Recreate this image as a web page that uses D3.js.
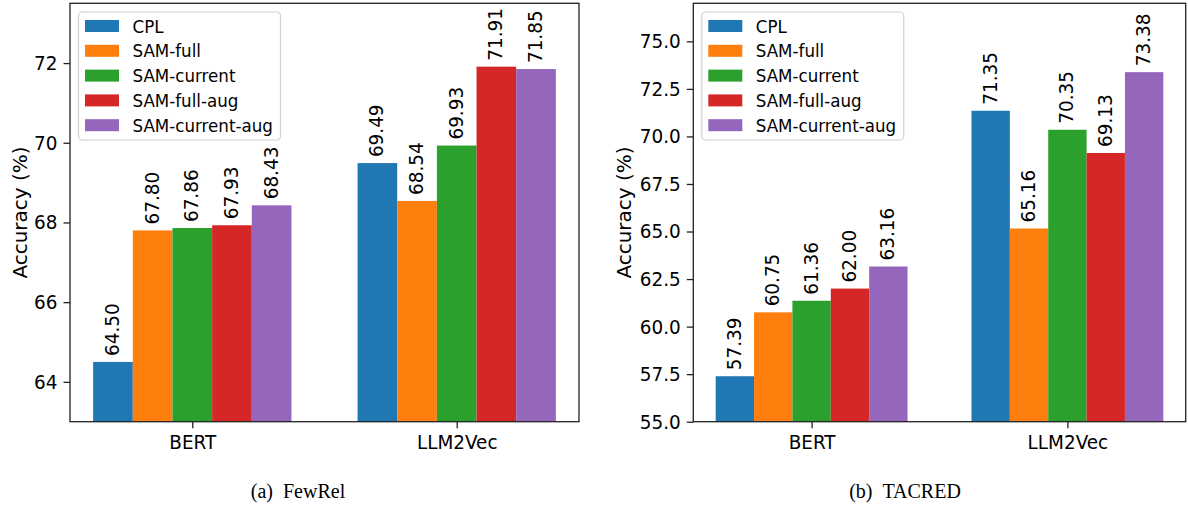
<!DOCTYPE html>
<meta charset="utf-8">
<style>
body { margin: 0; background: #fff; }
svg { display: block; }
text { font-family: "DejaVu Sans", sans-serif; fill: #000; }
.caption { font-family: "Liberation Serif", "Times New Roman", serif; font-size: 20px; }
</style>
<body>
<svg id="chart" width="1188" height="506"></svg>
<script src="https://d3js.org/d3.v7.min.js"></script>
<script>
// Data
var groups = ["BERT", "LLM2Vec"];
var methods = ["CPL", "SAM-full", "SAM-current", "SAM-full-aug", "SAM-current-aug"];
var colors = ["#1f77b4", "#ff7f0e", "#2ca02c", "#d62728", "#9467bd"];

var fewrelBert = [64.50, 67.80, 67.86, 67.93, 68.43];
var fewrelLlm = [69.49, 68.54, 69.93, 71.91, 71.85];
var fewrelTicks = [64, 66, 68, 70, 72];

var tacredBert = [57.39, 60.75, 61.36, 62.00, 63.16];
var tacredLlm = [71.35, 65.16, 70.35, 69.13, 73.38];
var tacredTicks = [55.0, 57.5, 60.0, 62.5, 65.0, 67.5, 70.0, 72.5, 75.0];

// the picture is a bit taller than wide, so text gets stretched vertically
var stretch = 1.09;

var svg = d3.select("#chart");

function panel(opt) {
  var x0 = opt.left, x1 = opt.right, y0 = opt.top, y1 = opt.bottom;
  var barW = 0.15;
  var half = methods.length * barW / 2;
  var pad = (1 + 2 * half) * 0.05;
  var x = d3.scaleLinear().domain([-half - pad, 1 + half + pad]).range([x0, x1]);
  var y = d3.scaleLinear().domain(opt.ylim).range([y1, y0]);
  var g = svg.append("g");

  // bars + labels
  var rows = [opt.bert, opt.llm];
  rows.forEach(function (vals, gi) {
    vals.forEach(function (v, mi) {
      var cx = gi + (mi - (methods.length - 1) / 2) * barW;
      g.append("rect")
        .attr("x", x(cx - barW / 2))
        .attr("width", x(cx + barW / 2) - x(cx - barW / 2))
        .attr("y", y(v))
        .attr("height", y1 - y(v))
        .attr("fill", colors[mi]);
      g.append("text")
        .attr("transform", "translate(" + (x(cx) - 1) + "," + (y(v) - 6) + ") rotate(-90) scale(1,1.05)")
        .attr("dy", "0.36em")
        .style("font-size", "18.4px")
        .text(v.toFixed(2));
    });
  });

  // axes
  var ya = d3.axisLeft(y).tickValues(opt.ticks).tickSize(6.5).tickPadding(6)
    .tickFormat(opt.fmt);
  var ay = g.append("g").attr("transform", "translate(" + x0 + ",0)").call(ya);
  var xa = d3.axisBottom(x).tickValues([0, 1]).tickSize(6.5).tickPadding(6)
    .tickFormat(function (d, i) { return groups[i]; });
  var ax = g.append("g").attr("transform", "translate(0," + y1 + ")").call(xa);
  [ay, ax].forEach(function (a) {
    a.select(".domain").remove();
    a.selectAll("line").attr("stroke", "#222").attr("stroke-width", 1.3);
    a.selectAll("text").style("font-size", "18.4px").style("font-family", "DejaVu Sans")
      .attr("transform", "scale(1," + stretch + ")");
  });
  ax.selectAll("text").attr("dy", "0.68em");

  g.append("rect").attr("x", x0).attr("y", y0).attr("width", x1 - x0).attr("height", y1 - y0)
    .attr("fill", "none").attr("stroke", "#222").attr("stroke-width", 1.3);

  g.append("text")
    .attr("transform", "translate(" + opt.ylabX + "," + ((y0 + y1) / 2) + ") rotate(-90) scale(1,0.95)")
    .attr("text-anchor", "middle")
    .style("font-size", "20px")
    .text("Accuracy (%)");

  // legend
  var lx = x0 + 8.5, ly = 12;
  var lg = g.append("g");
  lg.append("rect").attr("x", lx).attr("y", ly).attr("width", opt.legW).attr("height", 128)
    .attr("rx", 4).attr("fill", "#fff").attr("fill-opacity", 0.8)
    .attr("stroke", "#d0d0d0").attr("stroke-width", 1.2);
  methods.forEach(function (m, i) {
    var cy = 26 + i * 24.8;
    lg.append("rect").attr("x", lx + 6.5).attr("y", cy - 6).attr("width", 34).attr("height", 12)
      .attr("fill", colors[i]);
    lg.append("text")
      .attr("transform", "translate(" + (lx + 54) + "," + cy + ") scale(1," + stretch + ")")
      .attr("dy", "0.36em")
      .style("font-size", "16.7px").text(m);
  });

  svg.append("text").attr("class", "caption")
    .attr("x", opt.capX).attr("y", 498).attr("text-anchor", "middle")
    .text(opt.caption);
}

panel({
  left: 70, right: 579, top: 3.3, bottom: 421.7,
  ylim: [63, 73.5], ticks: fewrelTicks, fmt: d3.format("d"),
  bert: fewrelBert, llm: fewrelLlm, ylabX: 26.5, legW: 202,
  caption: "(a)\u00a0\u00a0FewRel", capX: 298
});

panel({
  left: 693.3, right: 1185.7, top: 3.3, bottom: 421.7,
  ylim: [55, 77], ticks: tacredTicks, fmt: d3.format(".1f"),
  bert: tacredBert, llm: tacredLlm, ylabX: 630.5, legW: 202,
  caption: "(b)\u00a0\u00a0TACRED", capX: 905
});
</script>
</body>
